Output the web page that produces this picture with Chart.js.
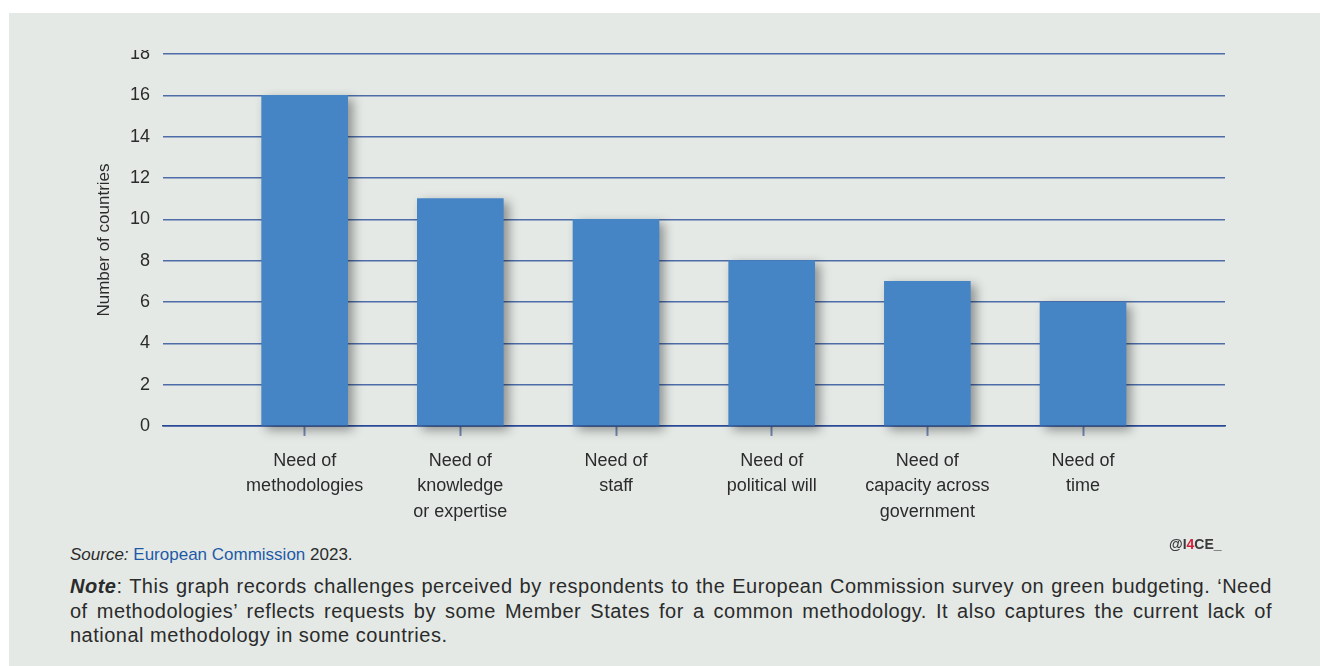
<!DOCTYPE html>
<html>
<head>
<meta charset="utf-8">
<script src="https://cdn.jsdelivr.net/npm/chart.js@4.4.0/dist/chart.umd.min.js"></script>
<style>
  html, body { margin: 0; padding: 0; background: #ffffff; }
  #panel {
    position: absolute; left: 9px; top: 13px; width: 1311px; height: 653px;
    background: #e4e9e6; overflow: hidden;
  }
  #chart { position: absolute; left: 0; top: 0; }
  #mask { position: absolute; left: 80px; top: 0; width: 70px; height: 37px; background: #e4e9e6; }
  .txt { position: absolute; font-family: "Liberation Sans", Arial, sans-serif; color: #2b2b2b; }
  #source { left: 61px; top: 532px; font-size: 17px; }
  #source a { color: #1f5aa6; text-decoration: none; }
  #handle { left: 1160px; top: 523px; font-size: 14px; font-weight: bold; color: #3a3a3a; }
  #handle span { color: #d3203c; }
  #note { left: 61px; top: 561px; width: 1202px; font-size: 20px; line-height: 24.5px; letter-spacing: 0.5px; }
  #note .j { text-align: justify; text-align-last: justify; }
</style>
</head>
<body>
<div id="panel">
  <canvas id="chart" width="1311" height="525"></canvas>
  <div id="mask"></div>
  <div class="txt" id="handle">@I<span>4</span>CE_</div>
  <div class="txt" id="source"><i>Source:</i> <a>European Commission</a> 2023.</div>
  <div class="txt" id="note">
    <div class="j"><b><i>Note</i></b>: This graph records challenges perceived by respondents to the European Commission survey on green budgeting. ‘Need</div>
    <div class="j">of methodologies’ reflects requests by some Member States for a common methodology. It also captures the current lack of</div>
    <div>national methodology in some countries.</div>
  </div>
</div>
<script>
// challenges reported in the survey
var categories = [
  ["Need of", "methodologies"],
  ["Need of", "knowledge", "or expertise"],
  ["Need of", "staff"],
  ["Need of", "political will"],
  ["Need of", "capacity across", "government"],
  ["Need of", "time"]
];
var countries = [16, 11, 10, 8, 7, 6];
var yTicks = [0, 2, 4, 6, 8, 10, 12, 14, 16, 18];

var sans = '"Liberation Sans", Arial, sans-serif';
var bar_color = "#4585c6";
var grid_color = "#4d6ca8";
var axis_color = "#2a4b98";

var points = [];
for (var i = 0; i < countries.length; i++) {
  points.push({ x: i, y: countries[i] });
}

var barShadow = {
  id: 'barShadow',
  beforeDatasetsDraw: function(chart) {
    var ctx = chart.ctx;
    ctx.save();
    ctx.shadowColor = "rgba(0,0,0,0.38)";
    ctx.shadowBlur = 10;
    ctx.shadowOffsetX = 5;
    ctx.shadowOffsetY = 4;
  },
  afterDatasetsDraw: function(chart) {
    chart.ctx.restore();
  }
};

var ctx = document.getElementById("chart").getContext("2d");
var chart = new Chart(ctx, {
  type: 'bar',
  data: {
    datasets: [{
      data: points,
      backgroundColor: bar_color,
      borderWidth: 0,
      barThickness: 86,
      clip: false
    }]
  },
  options: {
    responsive: false,
    animation: false,
    layout: { padding: { left: 85, right: 95, top: 41, bottom: 0 } },
    plugins: { legend: { display: false }, tooltip: { enabled: false } },
    scales: {
      x: {
        type: 'linear',
        offset: false,
        min: -0.91,
        max: 5.912,
        afterBuildTicks: function(axis) {
          axis.ticks = categories.map(function(c, i) { return { value: i }; });
        },
        afterFit: function(axis) { axis.height = 112; },
        ticks: {
          autoSkip: false,
          maxRotation: 0,
          padding: 12,
          color: "#2b2b2b",
          font: { family: sans, size: 18, lineHeight: 1.42 },
          callback: function(value) { return categories[value]; }
        },
        grid: {
          offset: false,
          drawOnChartArea: false,
          drawTicks: true,
          tickLength: 10,
          tickWidth: 2,
          tickColor: "#7489b2"
        },
        border: { display: true, color: axis_color, width: 1.5 }
      },
      y: {
        min: 0,
        max: 18,
        afterBuildTicks: function(axis) {
          axis.ticks = yTicks.map(function(v) { return { value: v }; });
        },
        afterFit: function(axis) { axis.width = 69; },
        title: {
          display: true,
          text: "Number of countries",
          color: "#2b2b2b",
          padding: 0,
          font: { family: sans, size: 17 }
        },
        ticks: {
          padding: 13,
          color: "#2b2b2b",
          font: { family: sans, size: 18 }
        },
        grid: {
          drawTicks: false,
          lineWidth: 1.5,
          color: function(c) { return c.tick && c.tick.value === 0 ? axis_color : grid_color; }
        },
        border: { display: false }
      }
    }
  },
  plugins: [barShadow]
});
</script>
</body>
</html>
